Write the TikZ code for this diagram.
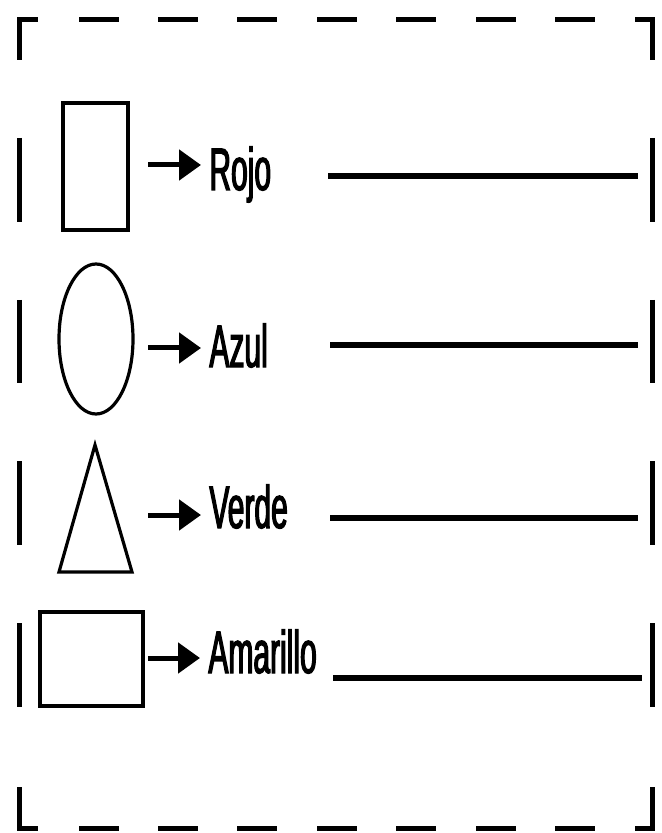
\documentclass[tikz,border=0pt]{standalone}
\usepackage{fontspec}
\usepackage{tikz}
\usetikzlibrary{arrows.meta,positioning,calc,shapes.geometric}
\newfontfamily\hojafont[FakeStretch=0.5,FakeBold=2]{Liberation Sans}

\begin{document}
\begin{tikzpicture}[
  x=0.5pt, y=-0.5pt,
  figura/.style={draw, line width=1.6pt, inner sep=0pt},
  etiqueta/.style={anchor=base west, inner sep=0pt, inner xsep=4pt, font=\hojafont\fontsize{30}{36}\selectfont},
  flecha/.style={-{Triangle[length=11pt,width=15pt]}, line width=2.5pt},
  linea/.style={line width=3pt},
  borde/.style={line width=2.5pt}
]
\useasboundingbox (0,0) rectangle (661,833);

% Nodes
\node[figura, rectangle, minimum width=32.5pt, minimum height=63.5pt] (cuadro) at (95.5,166.5) {};
\node[figura, ellipse, minimum width=37pt, minimum height=75pt] (circulo) at (96,339) {};
\draw[line width=1.6pt, line join=miter] (95,445) -- (132,572) -- (59,572) -- cycle;
\node[figura, rectangle, minimum width=51.5pt, minimum height=47pt] (caja) at (91.5,659) {};

\node[etiqueta] (rojo) at (201,190) {Rojo};
\node[etiqueta] (azul) at (201,367) {Azul};
\node[etiqueta] (verde) at (201,528) {Verde};
\node[etiqueta] (amarillo) at (200,673) {Amarillo};

\coordinate (a1) at (148,165);
\coordinate (a2) at (148,348);
\coordinate (a3) at (148,515);
\coordinate (a4) at (148,658);

% Arrows
\draw[flecha] (a1) -- (rojo.west |- a1);
\draw[flecha] (a2) -- (azul.west |- a2);
\draw[flecha] (a3) -- (verde.west |- a3);
\draw[flecha] (a4) -- (amarillo.west |- a4);

% Lines
\draw[linea] (328,176) -- (638,176);
\draw[linea] (330,345) -- (638,345);
\draw[linea] (330,518) -- (638,518);
\draw[linea] (333,678) -- (642,678);

% Border
\draw[borde] (19,60) -- (19,20) -- (38,20);
\draw[borde] (635,20) -- (652,20) -- (652,60);
\draw[borde] (19,787) -- (19,828) -- (38,828);
\draw[borde] (635,828) -- (652,828) -- (652,787);
\foreach \x in {79,158,237,317,396,476,555} {
  \draw[borde] (\x,20) -- ++(40,0);
  \draw[borde] (\x,828) -- ++(40,0);
}
\foreach \y/\l in {138/84,300/83,461/84,623/84} {
  \draw[borde] (19,\y) -- ++(0,\l);
  \draw[borde] (652,\y) -- ++(0,\l);
}
\end{tikzpicture}
\end{document}
